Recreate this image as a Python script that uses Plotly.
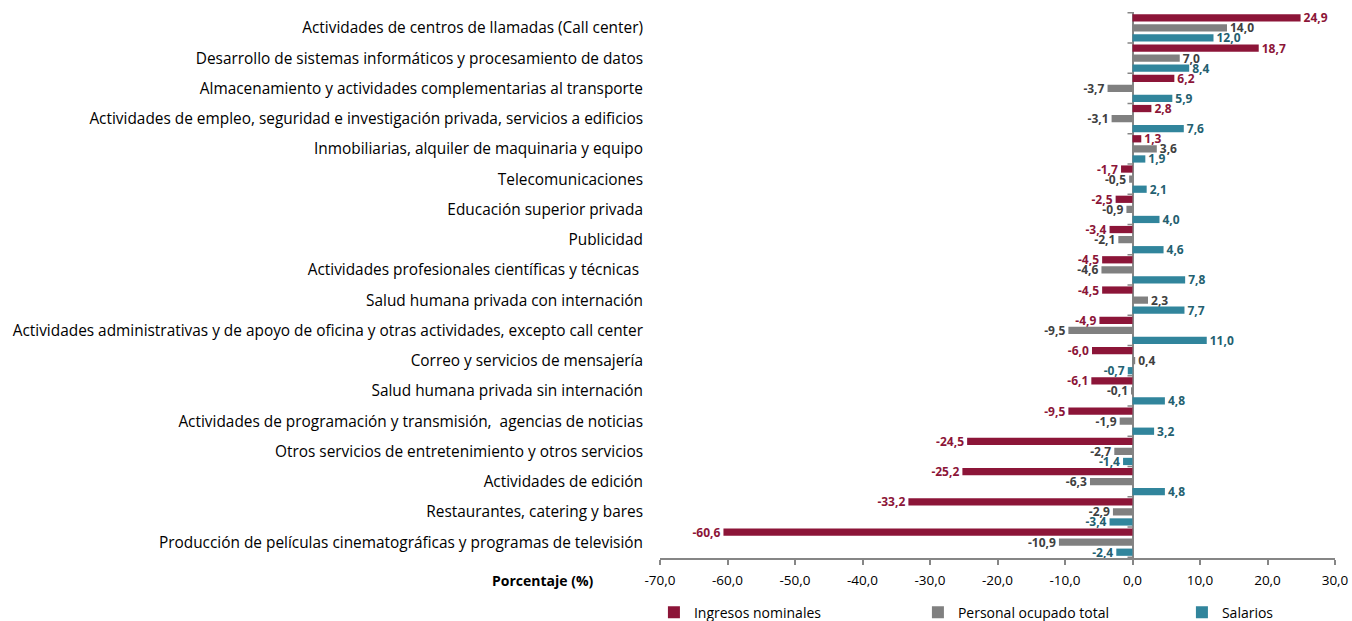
import plotly.graph_objects as go

categorias = [
    "Actividades de centros de llamadas (Call center)",
    "Desarrollo de sistemas informáticos y procesamiento de datos",
    "Almacenamiento y actividades complementarias al transporte",
    "Actividades de empleo, seguridad e investigación privada, servicios a edificios",
    "Inmobiliarias, alquiler de maquinaria y equipo",
    "Telecomunicaciones",
    "Educación superior privada",
    "Publicidad",
    "Actividades profesionales científicas y técnicas ",
    "Salud humana privada con internación",
    "Actividades administrativas y de apoyo de oficina y otras actividades, excepto call center",
    "Correo y servicios de mensajería",
    "Salud humana privada sin internación",
    "Actividades de programación y transmisión,  agencias de noticias",
    "Otros servicios de entretenimiento y otros servicios",
    "Actividades de edición",
    "Restaurantes, catering y bares",
    "Producción de películas cinematográficas y programas de televisión",
]

ingresos = [24.9, 18.7, 6.2, 2.8, 1.3, -1.7, -2.5, -3.4, -4.5, -4.5, -4.9, -6.0, -6.1, -9.5, -24.5, -25.2, -33.2, -60.6]
personal = [14.0, 7.0, -3.7, -3.1, 3.6, -0.5, -0.9, -2.1, -4.6, 2.3, -9.5, 0.4, -0.1, -1.9, -2.7, -6.3, -2.9, -10.9]
salarios = [12.0, 8.4, 5.9, 7.6, 1.9, 2.1, 4.0, 4.6, 7.8, 7.7, 11.0, -0.7, 4.8, 3.2, -1.4, 4.8, -3.4, -2.4]

x_ticks = [-70, -60, -50, -40, -30, -20, -10, 0, 10, 20, 30]


def fmt(v):
    return f"{v:.1f}".replace(".", ",")


series = [
    ("Ingresos nominales", ingresos, "#8C1538", "#8C1538"),
    ("Personal ocupado total", personal, "#808080", "#404040"),
    ("Salarios", salarios, "#31859C", "#245F70"),
]

fig = go.Figure()
for name, values, color, text_color in series:
    fig.add_trace(
        go.Bar(
            name=name,
            y=categorias,
            x=values,
            orientation="h",
            marker=dict(color=color, line=dict(width=0)),
            text=[fmt(v) for v in values],
            textposition="outside",
            textfont=dict(family="Open Sans", size=12, color=text_color, weight="bold"),
            cliponaxis=False,
            constraintext="none",
        )
    )

# small tick marks on the zero line, between categories
boundary_ticks = [
    dict(
        type="line",
        xref="x",
        yref="y",
        xsizemode="pixel",
        xanchor=0,
        x0=-5,
        x1=0,
        y0=i - 0.5,
        y1=i - 0.5,
        line=dict(color="#868686", width=1.5),
    )
    for i in range(len(categorias) + 1)
]

fig.update_layout(
    width=1352,
    height=621,
    barmode="group",
    bargap=0.0,
    bargroupgap=0.28,
    separators=",.",
    plot_bgcolor="white",
    paper_bgcolor="white",
    font=dict(family="Open Sans", size=14, color="#000000"),
    margin=dict(l=660, r=17, t=12, b=63, autoexpand=False),
    shapes=boundary_ticks,
    legend=dict(
        orientation="h",
        x=-0.009,
        xanchor="left",
        y=-0.1,
        yanchor="middle",
        entrywidth=219,
        font=dict(size=14, color="#000000"),
    ),
    annotations=[
        dict(
            text="<b>Porcentaje (%)</b>",
            xref="paper",
            yref="paper",
            x=-0.1733,
            y=-0.042,
            xanchor="center",
            yanchor="middle",
            showarrow=False,
            font=dict(size=14, color="#000000"),
        )
    ],
)

fig.update_xaxes(
    range=[-70, 30],
    tickmode="array",
    tickvals=x_ticks,
    ticktext=[fmt(v) for v in x_ticks],
    showgrid=False,
    zeroline=True,
    zerolinecolor="#868686",
    zerolinewidth=2,
    showline=True,
    linecolor="#868686",
    linewidth=2,
    ticks="outside",
    tickcolor="#868686",
    ticklen=5,
    tickwidth=1.5,
    ticklabelstandoff=4,
    automargin=False,
    ticklabeloverflow="allow",
    tickfont=dict(size=13.5, color="#000000"),
)
fig.update_yaxes(
    type="category",
    autorange="reversed",
    showgrid=False,
    showline=False,
    ticks="",
    automargin=False,
    ticklabelstandoff=16,
    tickfont=dict(size=15.4, color="#000000"),
)

fig.write_html(
    "out.html",
    config={"displayModeBar": False},
    post_script="document.body.style.margin = '0';",
)
